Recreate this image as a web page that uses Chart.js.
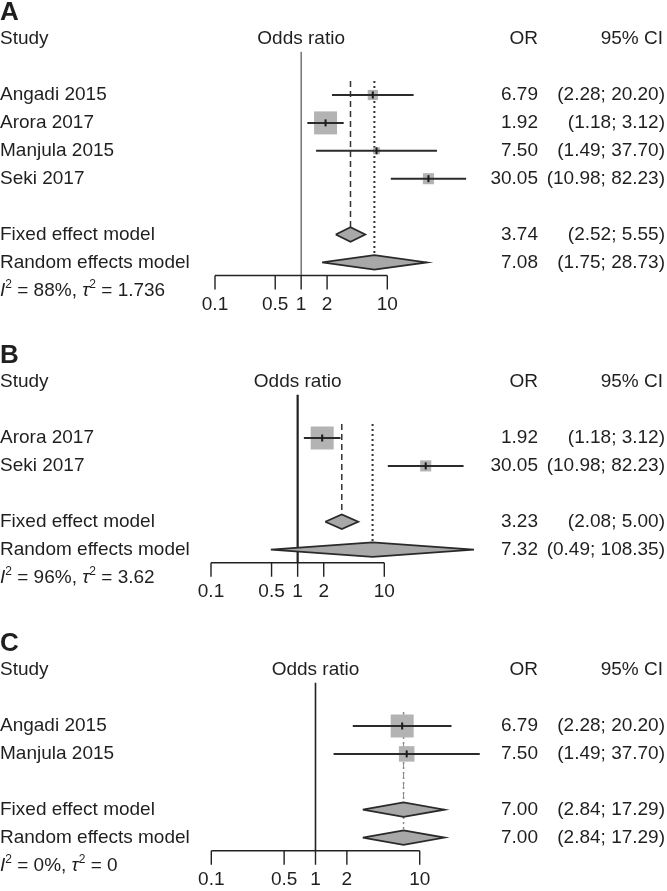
<!DOCTYPE html>
<html>
<head>
<meta charset="utf-8">
<script src="https://cdn.jsdelivr.net/npm/chart.js@4.4.1/dist/chart.umd.min.js"></script>
<style>
  html, body { margin: 0; padding: 0; background: #fff; }
  #wrap { position: relative; width: 667px; height: 891px; overflow: hidden; }
  canvas { position: absolute; left: 0; }
</style>
</head>
<body>
<div id="wrap">
  <canvas id="panelA" width="667" height="320" style="top:0px"></canvas>
  <canvas id="panelB" width="667" height="265" style="top:343px"></canvas>
  <canvas id="panelC" width="667" height="260" style="top:631px"></canvas>
</div>
<script>
// A: all four studies
const studiesA = ['Angadi 2015', 'Arora 2017', 'Manjula 2015', 'Seki 2017'];
const orA = [6.79, 1.92, 7.50, 30.05];
const lowerA = [2.28, 1.18, 1.49, 10.98];
const upperA = [20.20, 3.12, 37.70, 82.23];
const weightA = [13.0, 65.8, 5.9, 15.3];
const fixedA = [3.74, 2.52, 5.55];   // OR, lower, upper
const randomA = [7.08, 1.75, 28.73];
const hetA = ['88%', '1.736'];       // I^2, tau^2

// B: Arora + Seki
const studiesB = ['Arora 2017', 'Seki 2017'];
const orB = [1.92, 30.05];
const lowerB = [1.18, 10.98];
const upperB = [3.12, 82.23];
const weightB = [81.1, 18.9];
const fixedB = [3.23, 2.08, 5.00];
const randomB = [7.32, 0.49, 108.35];
const hetB = ['96%', '3.62'];

// C: Angadi + Manjula
const studiesC = ['Angadi 2015', 'Manjula 2015'];
const orC = [6.79, 7.50];
const lowerC = [2.28, 1.49];
const upperC = [20.20, 37.70];
const weightC = [68.7, 31.3];
const fixedC = [7.00, 2.84, 17.29];
const randomC = [7.00, 2.84, 17.29];
const hetC = ['0%', '0'];

const tickValues = [0.1, 0.5, 1, 2, 10];

// layout
const ROW = 27.9;      // px between rows
const ROW0 = 95;       // y of first study row inside each canvas
const COL_OR = 538;    // right edge of OR column
const COL_CI = 665;    // right edge of CI column
const INK = '#1f1f1f';
const FONT = '19px "Liberation Sans", Arial, Helvetica, sans-serif';
const DH = 0.26;       // diamond half height, rows

const panels = [
  { id: 'panelA', letter: 'A', studies: studiesA, or: orA, lower: lowerA, upper: upperA,
    weight: weightA, fixed: fixedA, random: randomA, het: hetA,
    x01: 215, decade: 86.15, refWidth: 1.1, refColor: '#444', sumColor: '#333', sumWidth: 1.5 },
  { id: 'panelB', letter: 'B', studies: studiesB, or: orB, lower: lowerB, upper: upperB,
    weight: weightB, fixed: fixedB, random: randomB, het: hetB,
    x01: 211, decade: 86.65, refWidth: 2.2, refColor: '#222', sumColor: '#333', sumWidth: 1.5 },
  { id: 'panelC', letter: 'C', studies: studiesC, or: orC, lower: lowerC, upper: upperC,
    weight: weightC, fixed: fixedC, random: randomC, het: hetC,
    x01: 211.3, decade: 104.2, refWidth: 1.6, refColor: '#222', sumColor: '#8a8a8a', sumWidth: 1 }
];

function fmtCI(lo, hi) {
  return '(' + lo.toFixed(2) + '; ' + hi.toFixed(2) + ')';
}

function drawText(chart, p) {
  const ctx = chart.ctx, xs = chart.scales.x, ys = chart.scales.y;
  const n = p.studies.length;
  const fixRow = n + 1, ranRow = n + 2, axisRow = n + 2.47, hetRow = n + 3;
  ctx.save();
  ctx.fillStyle = INK;
  ctx.textBaseline = 'middle';

  ctx.font = 'bold 26px "Liberation Sans", Arial, sans-serif';
  ctx.textAlign = 'left';
  ctx.fillText(p.letter, 0, ys.getPixelForValue(-2.95));

  ctx.font = FONT;
  const yh = ys.getPixelForValue(-2);
  ctx.fillText('Study', 0, yh);
  ctx.textAlign = 'center';
  ctx.fillText('Odds ratio', xs.getPixelForValue(1), yh);
  ctx.textAlign = 'right';
  ctx.fillText('OR', COL_OR, yh);
  ctx.fillText('95% CI', COL_CI - 2, yh);

  const rows = p.studies.map((s, i) => [s, i, p.or[i], p.lower[i], p.upper[i]]);
  rows.push(['Fixed effect model', fixRow].concat(p.fixed));
  rows.push(['Random effects model', ranRow].concat(p.random));
  rows.forEach(([name, r, est, lo, hi]) => {
    const y = ys.getPixelForValue(r);
    ctx.textAlign = 'left';
    ctx.fillText(name, 0, y);
    ctx.textAlign = 'right';
    ctx.fillText(est.toFixed(2), COL_OR, y);
    ctx.fillText(fmtCI(lo, hi), COL_CI, y);
  });

  // heterogeneity line
  const small = '12px "Liberation Sans", Arial, sans-serif';
  const parts = [
    ['I', 'italic ' + FONT, 0], ['2', small, -6],
    [' = ' + p.het[0] + ', ', FONT, 0],
    ['\u03c4', 'italic ' + FONT, 0], ['2', small, -6],
    [' = ' + p.het[1], FONT, 0]
  ];
  let x = 0;
  const yhet = ys.getPixelForValue(hetRow);
  ctx.textAlign = 'left';
  parts.forEach(([t, f, dy]) => {
    ctx.font = f;
    ctx.fillText(t, x, yhet + dy);
    x += ctx.measureText(t).width;
  });

  // x axis
  const ya = ys.getPixelForValue(axisRow);
  ctx.strokeStyle = '#222';
  ctx.lineWidth = 1.4;
  ctx.beginPath();
  ctx.moveTo(xs.getPixelForValue(tickValues[0]), ya);
  ctx.lineTo(xs.getPixelForValue(tickValues[tickValues.length - 1]), ya);
  tickValues.forEach(v => {
    const tx = xs.getPixelForValue(v);
    ctx.moveTo(tx, ya);
    ctx.lineTo(tx, ya + 14);
  });
  ctx.stroke();
  ctx.font = FONT;
  ctx.textAlign = 'center';
  tickValues.forEach(v => ctx.fillText(String(v), xs.getPixelForValue(v), ya + 29));
  ctx.restore();
}

function buildChart(p) {
  const canvas = document.getElementById(p.id);
  const H = canvas.height;
  const n = p.studies.length;
  const fixRow = n + 1, ranRow = n + 2, axisRow = n + 2.47;
  const top = ROW0 - 2 * ROW;
  const bottom = top + (axisRow + 2) * ROW;
  const wmax = Math.max(...p.weight);
  const datasets = [];

  // line of no effect
  datasets.push({ data: [{ x: 1, y: -1.55 }, { x: 1, y: axisRow }],
    borderColor: p.refColor, borderWidth: p.refWidth, pointRadius: 0, order: 9 });
  // fixed / random effect estimates
  datasets.push({ data: [{ x: p.fixed[0], y: -0.5 }, { x: p.fixed[0], y: fixRow - DH }],
    borderColor: p.sumColor, borderWidth: p.sumWidth, borderDash: [6, 4], pointRadius: 0, order: 8 });
  datasets.push({ data: [{ x: p.random[0], y: -0.5 }, { x: p.random[0], y: ranRow - DH }],
    borderColor: p.sumColor, borderWidth: p.sumWidth + 0.5, borderDash: [2, 3], pointRadius: 0, order: 8 });
  // weight squares
  datasets.push({ data: p.or.map((v, i) => ({ x: v, y: i })), showLine: false,
    pointStyle: 'rect', pointRadius: p.weight.map(w => 23 * Math.sqrt(w / wmax) / Math.SQRT2),
    pointBackgroundColor: '#b3b3b3', pointBorderWidth: 0, order: 7 });
  // confidence intervals
  p.or.forEach((v, i) => datasets.push({
    data: [{ x: p.lower[i], y: i }, { x: p.upper[i], y: i }],
    borderColor: '#2b2b2b', borderWidth: 2, pointRadius: 0, order: 5 }));
  // point estimate marks
  datasets.push({ data: p.or.map((v, i) => ({ x: v, y: i })), showLine: false,
    pointStyle: 'line', pointRotation: 90, pointRadius: 3.5,
    pointBorderColor: '#1a1a1a', pointBorderWidth: 2, order: 4 });
  // summary diamonds
  [[p.fixed, fixRow], [p.random, ranRow]].forEach(([s, r]) => datasets.push({
    data: [{ x: s[1], y: r }, { x: s[0], y: r - DH }, { x: s[2], y: r }, { x: s[0], y: r + DH }, { x: s[1], y: r }],
    fill: 'shape', backgroundColor: '#a8a8a8', borderColor: '#2a2a2a', borderWidth: 1.8,
    pointRadius: 0, order: 3 }));

  datasets.forEach(d => { d.clip = false; d.tension = 0; });

  return new Chart(canvas.getContext('2d'), {
    type: 'line',
    data: { datasets },
    options: {
      responsive: false,
      animation: false,
      events: [],
      layout: { padding: { left: p.x01, right: 667 - (p.x01 + 4 * p.decade), top: top, bottom: H - bottom } },
      scales: {
        x: { type: 'logarithmic', min: 0.1, max: 1000, bounds: 'data', display: false },
        y: { type: 'linear', min: -2, max: axisRow, reverse: true, bounds: 'data', display: false }
      },
      plugins: { legend: { display: false }, tooltip: { enabled: false } }
    },
    plugins: [{ id: 'forestText', afterDraw: chart => drawText(chart, p) }]
  });
}

panels.forEach(buildChart);
</script>
</body>
</html>
